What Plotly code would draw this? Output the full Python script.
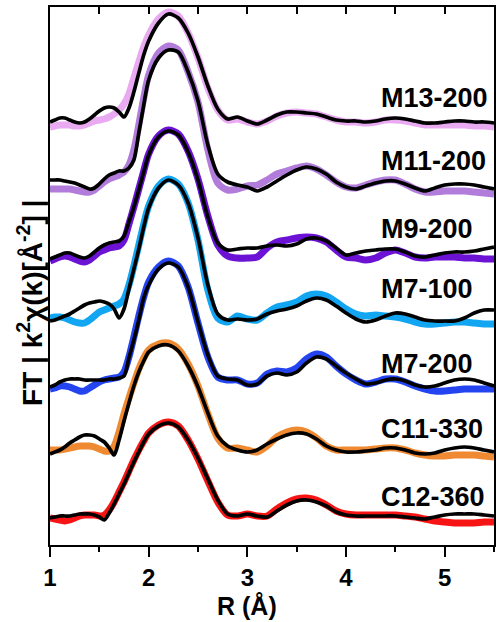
import plotly.graph_objects as go

# R grid (Å)
R = [1.00, 1.05, 1.10, 1.15, 1.20, 1.25, 1.30, 1.35, 1.40, 1.45, 1.50, 1.55, 1.60, 1.65,
     1.70, 1.75, 1.80, 1.85, 1.90, 1.95, 2.00,
     2.1, 2.2, 2.3, 2.4, 2.5, 2.6, 2.7, 2.8, 2.9, 3.0, 3.1, 3.2, 3.3, 3.4, 3.5, 3.6, 3.7,
     3.8, 3.9, 4.0, 4.1, 4.2, 4.3, 4.4, 4.5, 4.6, 4.7, 4.8, 4.9, 5.0, 5.1, 5.2, 5.3, 5.4, 5.5]

samples = ["M13-200", "M11-200", "M9-200", "M7-100", "M7-200", "C11-330", "C12-360"]
colors = ["#E9AAF2", "#B27CDB", "#6B12D4", "#12A6F2", "#2444F0", "#EF8A32", "#F71414"]
label_level = [447, 384, 316, 256, 181, 116, 48]

# stacked FT magnitudes (offset, a.u.)
M13_exp = [418, 419, 420, 420, 420, 419, 419, 420, 422, 424, 425, 426, 428, 431, 435, 441, 451, 467, 483, 498, 510,
           526, 533, 529, 512, 487, 457, 435, 425, 426, 423, 421, 424, 429, 432, 433, 432, 431, 428, 425, 423,
           423, 422, 423, 425, 425, 424, 422, 420, 420, 420, 420, 420, 419, 419, 418]
M13_fit = [423, 425, 427, 427, 425, 423, 422, 423, 426, 430, 434, 437, 438, 437, 433, 428, 437, 453, 472, 490, 504,
           522, 531, 527, 512, 488, 459, 436, 426, 428, 424, 421, 425, 430, 433, 433, 432, 431, 428, 425, 424,
           424, 423, 424, 426, 427, 426, 424, 422, 422, 423, 424, 424, 423, 423, 422]
M11_exp = [356, 356, 356, 356, 356, 355, 354, 353, 353, 355, 359, 363, 366, 368, 370, 373, 380, 395, 420, 447, 470,
           492, 499, 495, 473, 443, 395, 362, 355, 356, 359, 360, 365, 371, 374, 377, 379, 376, 370, 363, 358,
           357, 360, 363, 365, 365, 361, 356, 353, 353, 354, 354, 354, 353, 352, 351]
M11_fit = [365, 365, 365, 364, 363, 362, 360, 358, 356, 357, 361, 366, 370, 372, 374, 374, 377, 385, 412, 440, 465,
           487, 495, 493, 473, 444, 400, 371, 363, 360, 358, 354, 358, 364, 370, 375, 378, 376, 371, 363, 358,
           356, 359, 362, 364, 364, 361, 357, 354, 357, 360, 361, 361, 360, 358, 356]
M9_exp = [284, 286, 288, 289, 288, 286, 284, 283, 285, 289, 293, 295, 297, 298, 299, 305, 321, 338, 356, 374, 391,
          409, 415, 411, 394, 366, 329, 300, 289, 287, 287, 288, 297, 303, 305, 307, 308, 307, 303, 295, 288,
          287, 285, 287, 292, 295, 292, 288, 287, 288, 288, 288, 287, 287, 286, 286]
M9_fit = [286, 288, 290, 292, 292, 290, 288, 287, 289, 293, 297, 300, 302, 303, 304, 309, 323, 338, 355, 373, 390,
          408, 414, 410, 393, 365, 328, 302, 295, 296, 297, 297, 299, 300, 299, 301, 306, 307, 304, 297, 290,
          292, 294, 295, 296, 296, 293, 289, 288, 290, 292, 293, 293, 294, 296, 298]
M7_100_exp = [227, 228, 228, 227, 225, 223, 222, 222, 225, 229, 233, 235, 237, 239, 241, 246, 260, 279, 300, 321, 339,
              359, 366, 361, 342, 305, 255, 227, 223, 229, 226, 225, 232, 238, 240, 243, 249, 251, 249, 243, 236,
              231, 229, 230, 229, 228, 226, 223, 221, 221, 222, 223, 223, 222, 221, 221]
M7_100_fit = [224, 225, 227, 229, 231, 234, 237, 240, 242, 243, 244, 243, 241, 236, 227, 236, 256, 276, 296, 318, 337,
              357, 365, 360, 342, 307, 260, 231, 225, 226, 225, 226, 231, 234, 236, 239, 244, 247, 245, 239, 232,
              226, 223, 225, 229, 232, 231, 228, 225, 224, 224, 224, 227, 232, 235, 235]
M7_200_exp = [156, 157, 159, 159, 158, 156, 154, 154, 157, 160, 163, 165, 166, 167, 168, 173, 188, 208, 229, 248, 263,
              278, 284, 279, 258, 222, 188, 168, 165, 165, 161, 162, 171, 174, 173, 177, 186, 191, 188, 179, 171,
              165, 161, 163, 166, 166, 163, 159, 156, 154, 154, 155, 156, 156, 156, 156]
M7_200_fit = [158, 160, 163, 165, 166, 166, 166, 165, 165, 165, 165, 165, 166, 166, 167, 169, 187, 205, 225, 247, 260,
              276, 282, 278, 258, 223, 190, 169, 166, 165, 160, 161, 169, 172, 170, 173, 182, 188, 186, 179, 172,
              166, 161, 162, 165, 166, 164, 160, 158, 159, 162, 165, 166, 165, 162, 159]
C11_exp = [95, 95, 95, 96, 97, 98, 99, 99, 99, 98, 96, 94, 94, 99, 113, 131, 147, 162, 176, 187, 195,
           201, 202, 196, 181, 159, 131, 107, 97, 97, 95, 93, 99, 108, 113, 115, 113, 107, 99, 95, 95,
           95, 95, 96, 97, 97, 95, 92, 90, 89, 89, 90, 90, 90, 89, 88]
C11_fit = [91, 93, 95, 98, 102, 105, 108, 110, 110, 109, 106, 103, 97, 90, 105, 124, 142, 159, 173, 184, 193,
           199, 200, 194, 179, 158, 132, 109, 99, 95, 93, 95, 101, 106, 110, 112, 111, 106, 99, 95, 93,
           93, 94, 95, 97, 97, 95, 92, 91, 92, 95, 97, 98, 97, 95, 93]
C12_exp = [27, 26, 25, 24, 25, 27, 29, 30, 30, 30, 29, 30, 35, 43, 53, 63, 74, 85, 95, 104, 112,
           120, 123, 119, 105, 86, 64, 43, 30, 29, 31, 29, 29, 36, 42, 46, 47, 45, 40, 34, 31,
           30, 30, 30, 30, 30, 29, 28, 26, 24, 23, 22, 22, 22, 23, 23]
C12_fit = [27, 28, 29, 29, 29, 30, 31, 31, 31, 30, 28, 25, 32, 41, 51, 61, 72, 83, 93, 103, 111,
           119, 122, 118, 105, 87, 66, 45, 31, 29, 31, 29, 28, 34, 40, 44, 45, 43, 39, 33, 30,
           29, 29, 29, 29, 29, 28, 27, 26, 28, 30, 31, 31, 31, 30, 29]

exp_data = [M13_exp, M11_exp, M9_exp, M7_100_exp, M7_200_exp, C11_exp, C12_exp]
fit_data = [M13_fit, M11_fit, M9_fit, M7_100_fit, M7_200_fit, C11_fit, C12_fit]

FONT = "Liberation Sans, Arial, sans-serif"

fig = go.Figure()
for name, col, ye, yf in zip(samples, colors, exp_data, fit_data):
    fig.add_trace(go.Scatter(x=R, y=ye, mode="lines", name=name + " exp",
                             line=dict(color=col, width=7, shape="spline", smoothing=0.8),
                             showlegend=False, hoverinfo="skip"))
    fig.add_trace(go.Scatter(x=R, y=yf, mode="lines", name=name + " fit",
                             line=dict(color="black", width=3.7, shape="spline", smoothing=0.8),
                             showlegend=False, hoverinfo="skip"))

# invisible trace to activate top axis
fig.add_trace(go.Scatter(x=[R[0], R[-1]], y=[C12_fit[0], C12_fit[-1]], xaxis="x2", mode="lines",
                         line=dict(width=0, color="rgba(0,0,0,0)"), showlegend=False, hoverinfo="skip"))

for name, lv in zip(samples, label_level):
    fig.add_annotation(x=4.33, y=lv, xref="x", yref="y", text=name, showarrow=False,
                       xanchor="left", yanchor="middle",
                       font=dict(family=FONT, size=27, color="black", weight="bold"))

fig.add_annotation(x=-0.045, y=0.45, xref="paper", yref="paper", textangle=-90,
                   text="FT | k<sup>2</sup>χ(k)[Å<sup>-2</sup>] |", showarrow=False,
                   xanchor="center", yanchor="middle",
                   font=dict(family=FONT, size=28, color="black", weight="bold"))
fig.add_annotation(x=3.0, y=-0.113, xref="x", yref="paper", text="R (Å)", showarrow=False,
                   xanchor="center", yanchor="middle",
                   font=dict(family=FONT, size=25, color="black", weight="bold"))

fig.update_layout(
    width=498, height=622,
    margin=dict(l=50, r=2, t=7, b=77),
    paper_bgcolor="white", plot_bgcolor="white",
    xaxis=dict(range=[1, 5.5], tickvals=[1, 2, 3, 4, 5], ticks="outside", ticklen=10, tickwidth=2,
               tickcolor="black", showline=True, linewidth=2, linecolor="black", mirror=True,
               showgrid=False, zeroline=False,
               minor=dict(ticks="outside", ticklen=5, tickwidth=2, tickcolor="black", dtick=0.5, tick0=1.5,
                          showgrid=False),
               tickfont=dict(family=FONT, size=24, color="black", weight="bold")),
    xaxis2=dict(range=[1, 5.5], overlaying="x", side="top", anchor="y", ticks="inside", ticklen=7,
                tickwidth=2, tickcolor="black", dtick=0.5, tick0=1, showticklabels=False,
                showline=False, showgrid=False, zeroline=False),
    yaxis=dict(range=[0, 538], showline=True, linewidth=2, linecolor="black", mirror=True,
               ticks="", showticklabels=False, showgrid=False, zeroline=False),
)

fig.write_html("out.html", config={"displayModeBar": False},
               post_script="document.body.style.margin='0';document.body.style.padding='0';")
